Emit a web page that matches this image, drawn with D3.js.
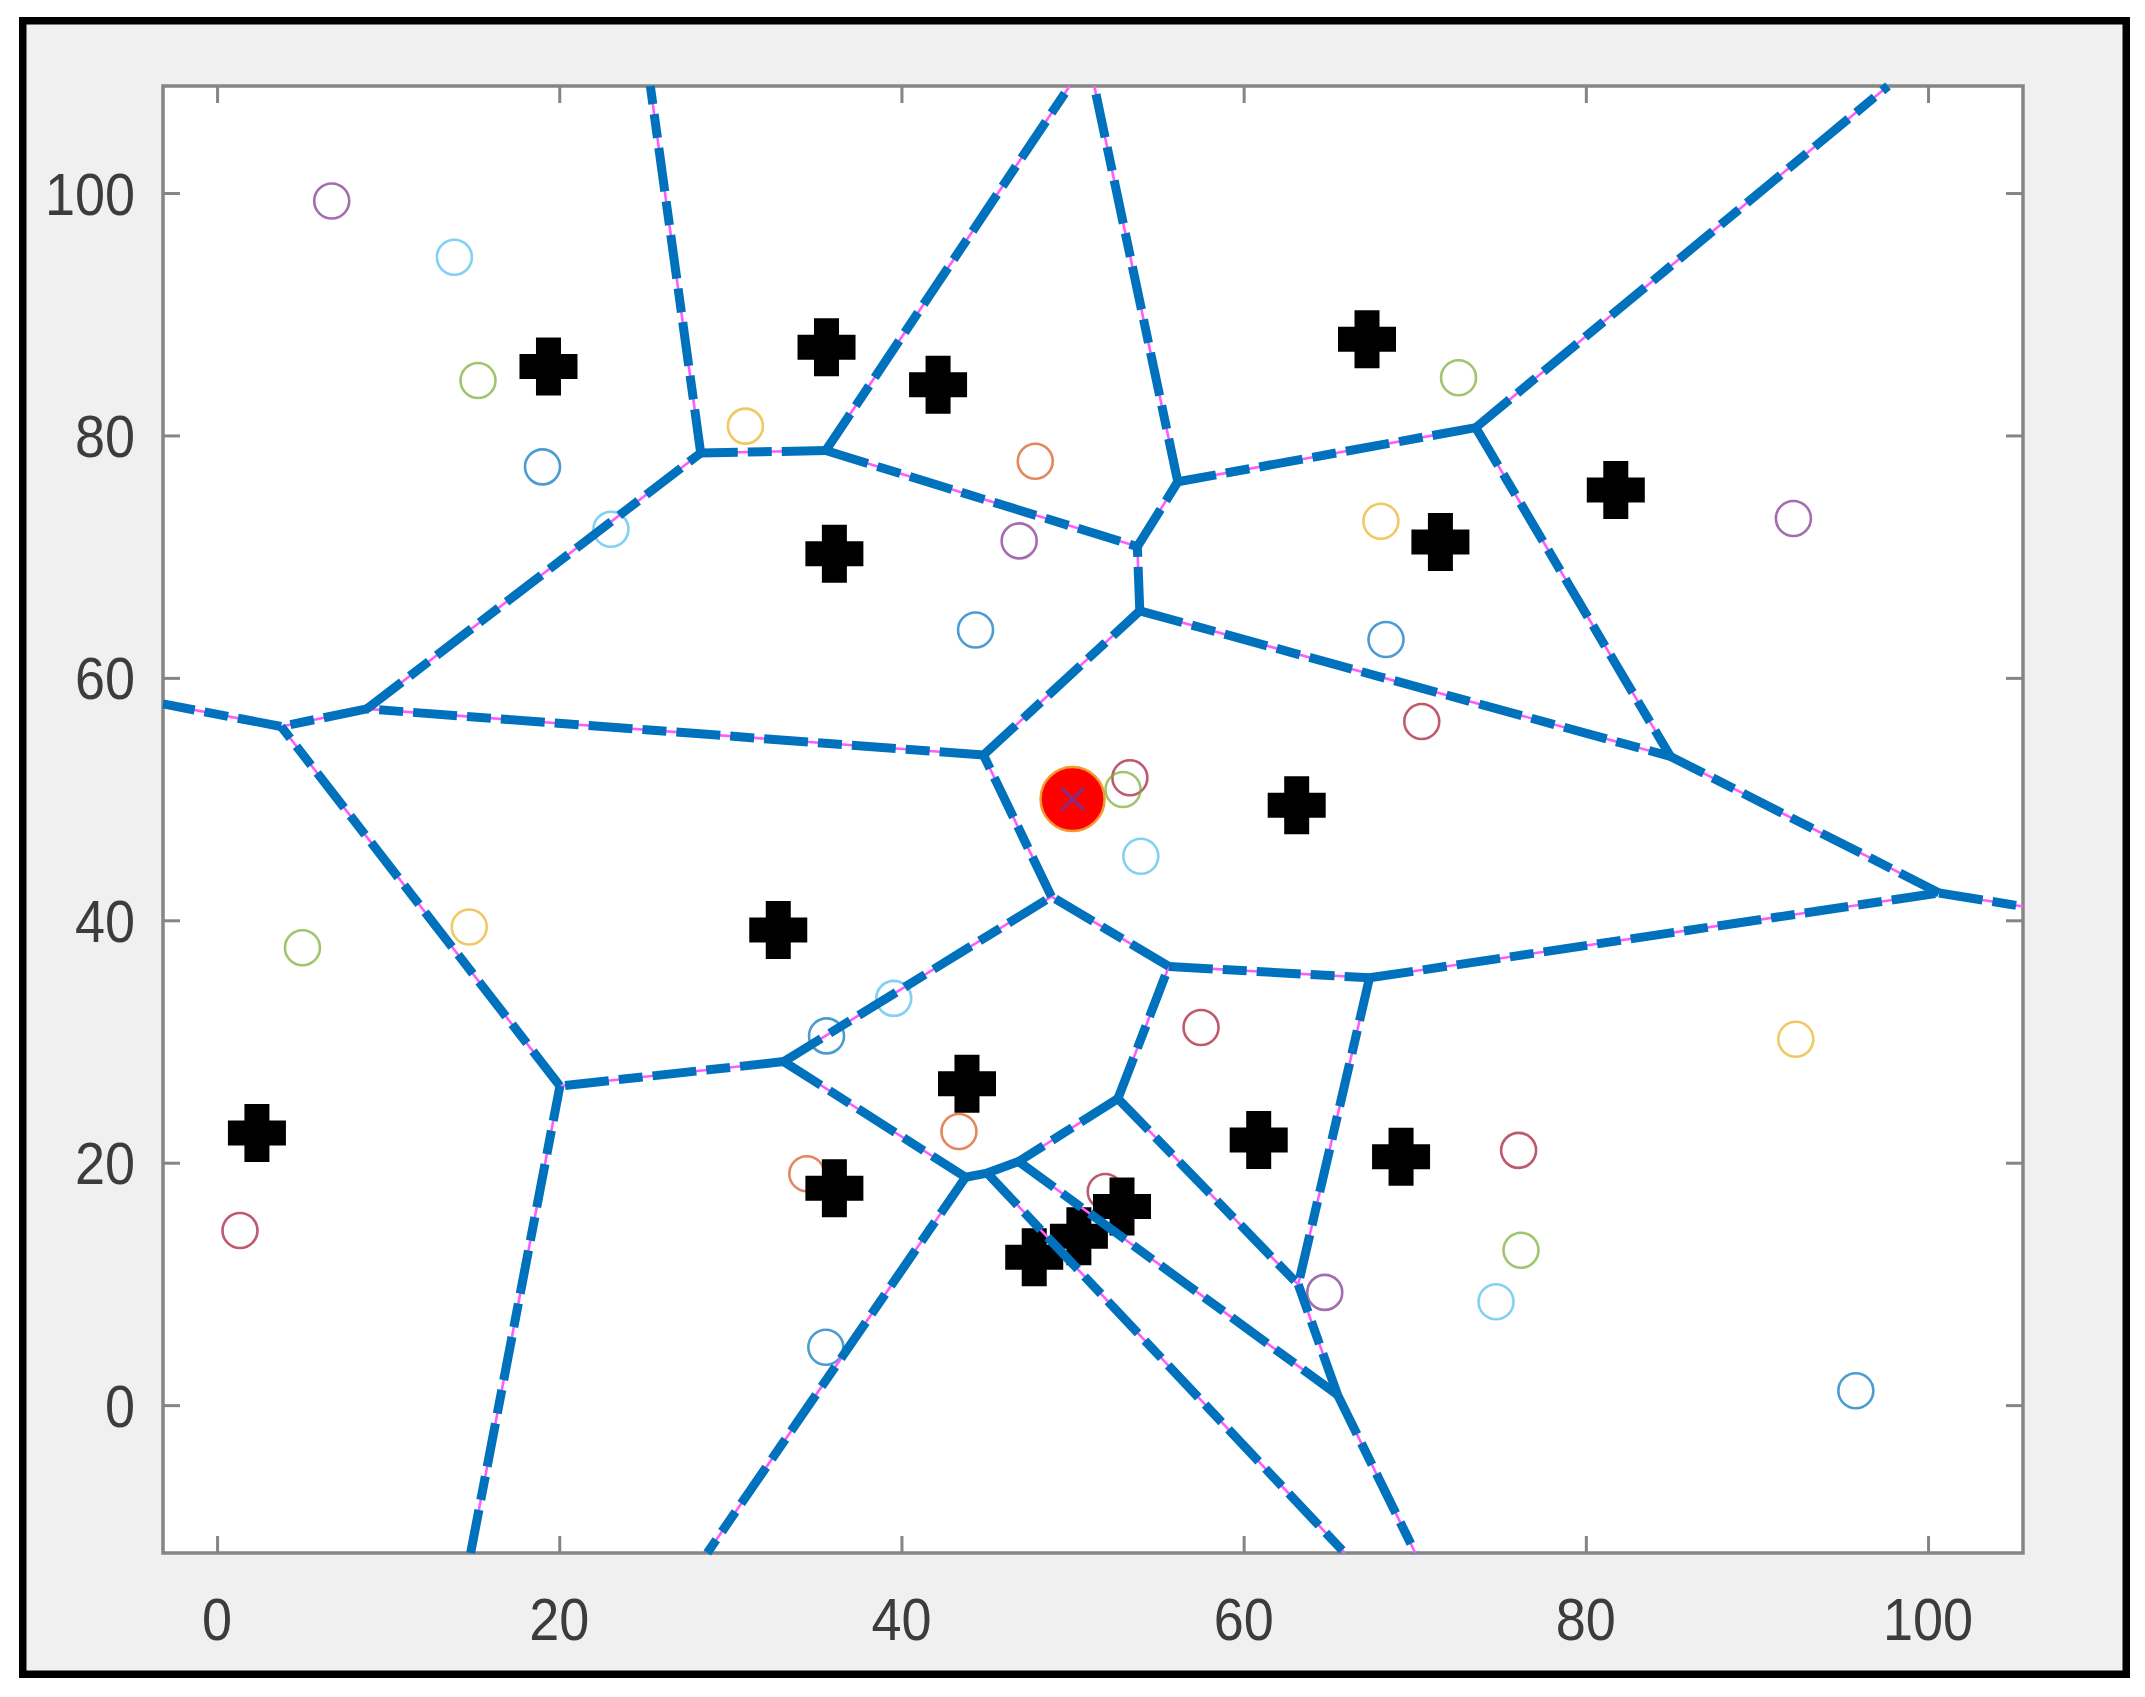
<!DOCTYPE html>
<html>
<head>
<meta charset="utf-8">
<script src="https://cdn.jsdelivr.net/npm/d3@7"></script>
<style>
  html, body { margin: 0; padding: 0; background: #ffffff; }
  svg { display: block; }
</style>
</head>
<body>
<svg id="chart" width="2145" height="1697"></svg>
<script>
// ---- Data ----
// Voronoi generator sites (black plus markers)
const siteX = [19.37, 35.62, 42.14, 36.08, 67.21, 71.5, 81.75, 63.1, 32.8, 43.83, 2.33, 36.08, 47.76, 50.37, 52.89, 60.88, 69.2];
const siteY = [85.69, 87.27, 84.18, 70.25, 87.93, 71.2, 75.5, 49.5, 39.2, 26.52, 22.46, 17.89, 12.20, 13.94, 16.38, 21.87, 20.5];

// Open circle markers (colour index into palette)
const circleX = [6.70, 13.87, 15.25, 19.02, 23.02, 30.88, 47.82, 46.88, 44.33, 68.02, 68.32, 53.35, 52.95, 72.56, 92.13, 70.41, 4.99, 14.74, 1.34, 53.99, 43.36, 34.47, 39.55, 35.62, 57.51, 64.74, 35.58, 51.91, 92.27, 76.07, 76.21, 74.75, 95.78];
const circleY = [99.34, 94.70, 84.53, 77.41, 72.26, 80.77, 77.87, 71.30, 63.95, 72.92, 63.17, 51.76, 50.79, 84.76, 73.15, 56.40, 37.74, 39.44, 14.41, 45.28, 22.57, 19.09, 33.56, 30.46, 31.16, 9.30, 4.78, 17.62, 30.19, 21.02, 12.78, 8.53, 1.18];
const circleC = [3, 5, 4, 0, 5, 2, 1, 3, 0, 2, 0, 6, 4, 4, 3, 6, 4, 2, 6, 5, 1, 1, 5, 0, 6, 3, 0, 6, 2, 6, 4, 5, 0];
const palette = ["#0072BD", "#D95319", "#EDB120", "#7E2F8E", "#77AC30", "#4DBEEE", "#A2142F"];

// Highlighted point
const targetX = [50];
const targetY = [50];

// Axes
const xDomain = [-3.16, 105.55];
const yDomain = [-12.2, 108.83];
const xTicks = [0, 20, 40, 60, 80, 100];
const yTicks = [0, 20, 40, 60, 80, 100];

// ---- Layout ----
const W = 2145, H = 1697;
const plot = { left: 163, top: 86, right: 2023, bottom: 1553 };
const svg = d3.select("#chart");

// outer figure: gray panel with black frame
svg.append("rect").attr("x", 0).attr("y", 0).attr("width", W).attr("height", H).attr("fill", "#ffffff");
svg.append("rect")
  .attr("x", 22.75).attr("y", 20.75)
  .attr("width", 2103.5).attr("height", 1653.5)
  .attr("fill", "#f0f0f0")
  .attr("stroke", "#000000").attr("stroke-width", 7.5);

const x = d3.scaleLinear().domain(xDomain).range([plot.left, plot.right]);
const y = d3.scaleLinear().domain(yDomain).range([plot.bottom, plot.top]);

// plot background
svg.append("rect")
  .attr("x", plot.left).attr("y", plot.top)
  .attr("width", plot.right - plot.left).attr("height", plot.bottom - plot.top)
  .attr("fill", "#ffffff");

// ---- axes (box with inward ticks on all sides) ----
const axisColor = "#858585";
const tickLen = 17;
const gAx = svg.append("g");
function styleAxis(g) {
  g.select(".domain").remove();
  g.selectAll(".tick line").attr("stroke", axisColor).attr("stroke-width", 3);
  g.selectAll(".tick text").remove();
}
gAx.append("g").attr("transform", `translate(0,${plot.bottom})`)
  .call(d3.axisBottom(x).tickValues(xTicks).tickSize(-tickLen).tickSizeOuter(0)).call(styleAxis);
gAx.append("g").attr("transform", `translate(0,${plot.top})`)
  .call(d3.axisTop(x).tickValues(xTicks).tickSize(-tickLen).tickSizeOuter(0)).call(styleAxis);
gAx.append("g").attr("transform", `translate(${plot.left},0)`)
  .call(d3.axisLeft(y).tickValues(yTicks).tickSize(-tickLen).tickSizeOuter(0)).call(styleAxis);
gAx.append("g").attr("transform", `translate(${plot.right},0)`)
  .call(d3.axisRight(y).tickValues(yTicks).tickSize(-tickLen).tickSizeOuter(0)).call(styleAxis);

gAx.append("rect")
  .attr("x", plot.left).attr("y", plot.top)
  .attr("width", plot.right - plot.left).attr("height", plot.bottom - plot.top)
  .attr("fill", "none").attr("stroke", axisColor).attr("stroke-width", 3.5);

// tick labels
const labelFont = "'Liberation Sans', Arial, Helvetica, sans-serif";
const labelColor = "#3c3c3c";
svg.append("g").selectAll("text").data(xTicks).join("text")
  .attr("transform", d => `translate(${x(d)},1640) scale(0.9,1)`)
  .attr("text-anchor", "middle")
  .attr("font-family", labelFont).attr("font-size", 60).attr("fill", labelColor)
  .text(d => d);
svg.append("g").selectAll("text").data(yTicks).join("text")
  .attr("transform", d => `translate(135,${y(d) + 21.5}) scale(0.9,1)`)
  .attr("text-anchor", "end")
  .attr("font-family", labelFont).attr("font-size", 60).attr("fill", labelColor)
  .text(d => d);

// ---- open circles ----
svg.append("g").selectAll("circle").data(circleX.map((d, i) => i)).join("circle")
  .attr("cx", i => x(circleX[i])).attr("cy", i => y(circleY[i]))
  .attr("r", 17.5)
  .attr("fill", "none")
  .attr("stroke", i => palette[circleC[i]])
  .attr("stroke-width", 2.6)
  .attr("stroke-opacity", 0.7);

// ---- black plus markers (sites) ----
const plusType = {
  draw(ctx, size) {
    const a = 29, t = 12.5;
    ctx.moveTo(-t, -a); ctx.lineTo(t, -a); ctx.lineTo(t, -t); ctx.lineTo(a, -t);
    ctx.lineTo(a, t); ctx.lineTo(t, t); ctx.lineTo(t, a); ctx.lineTo(-t, a);
    ctx.lineTo(-t, t); ctx.lineTo(-a, t); ctx.lineTo(-a, -t); ctx.lineTo(-t, -t);
    ctx.closePath();
  }
};
svg.append("g").selectAll("path").data(siteX.map((d, i) => i)).join("path")
  .attr("d", d3.symbol().type(plusType).size(1))
  .attr("transform", i => `translate(${x(siteX[i])},${y(siteY[i])})`)
  .attr("fill", "#000000");

// ---- highlighted point ----
const gT = svg.append("g");
gT.selectAll("circle").data(targetX.map((d, i) => i)).join("circle")
  .attr("cx", i => x(targetX[i])).attr("cy", i => y(targetY[i]))
  .attr("r", 32)
  .attr("fill", "#ff0000")
  .attr("stroke", "#f29a2e").attr("stroke-width", 2.5);
gT.selectAll("path").data(targetX.map((d, i) => i)).join("path")
  .attr("d", "M-11,-11L11,11M-11,11L11,-11")
  .attr("transform", i => `translate(${x(targetX[i])},${y(targetY[i])})`)
  .attr("stroke", "#8e2a72").attr("stroke-width", 3.5).attr("fill", "none");

// ---- Voronoi edges computed from the sites ----
const pts = siteX.map((d, i) => [d, siteY[i]]);
const vor = d3.Delaunay.from(pts).voronoi([xDomain[0], yDomain[0], xDomain[1], yDomain[1]]);
const segs = [];
let cur = null;
vor.render({
  moveTo(a, b) { cur = [a, b]; },
  lineTo(a, b) { segs.push([cur, [a, b]]); cur = [a, b]; },
  closePath() {}
});
const segPath = s => `M${x(s[0][0])},${y(s[0][1])}L${x(s[1][0])},${y(s[1][1])}`;
const gV = svg.append("g");
gV.selectAll("path.m").data(segs).join("path").attr("class", "m")
  .attr("d", segPath)
  .attr("stroke", "#ff5cff").attr("stroke-width", 2.6).attr("fill", "none");
gV.selectAll("path.b").data(segs).join("path").attr("class", "b")
  .attr("d", segPath)
  .attr("stroke", "#0072BD").attr("stroke-width", 9).attr("fill", "none")
  .attr("stroke-dasharray", "44 10 24 10");
</script>
</body>
</html>
